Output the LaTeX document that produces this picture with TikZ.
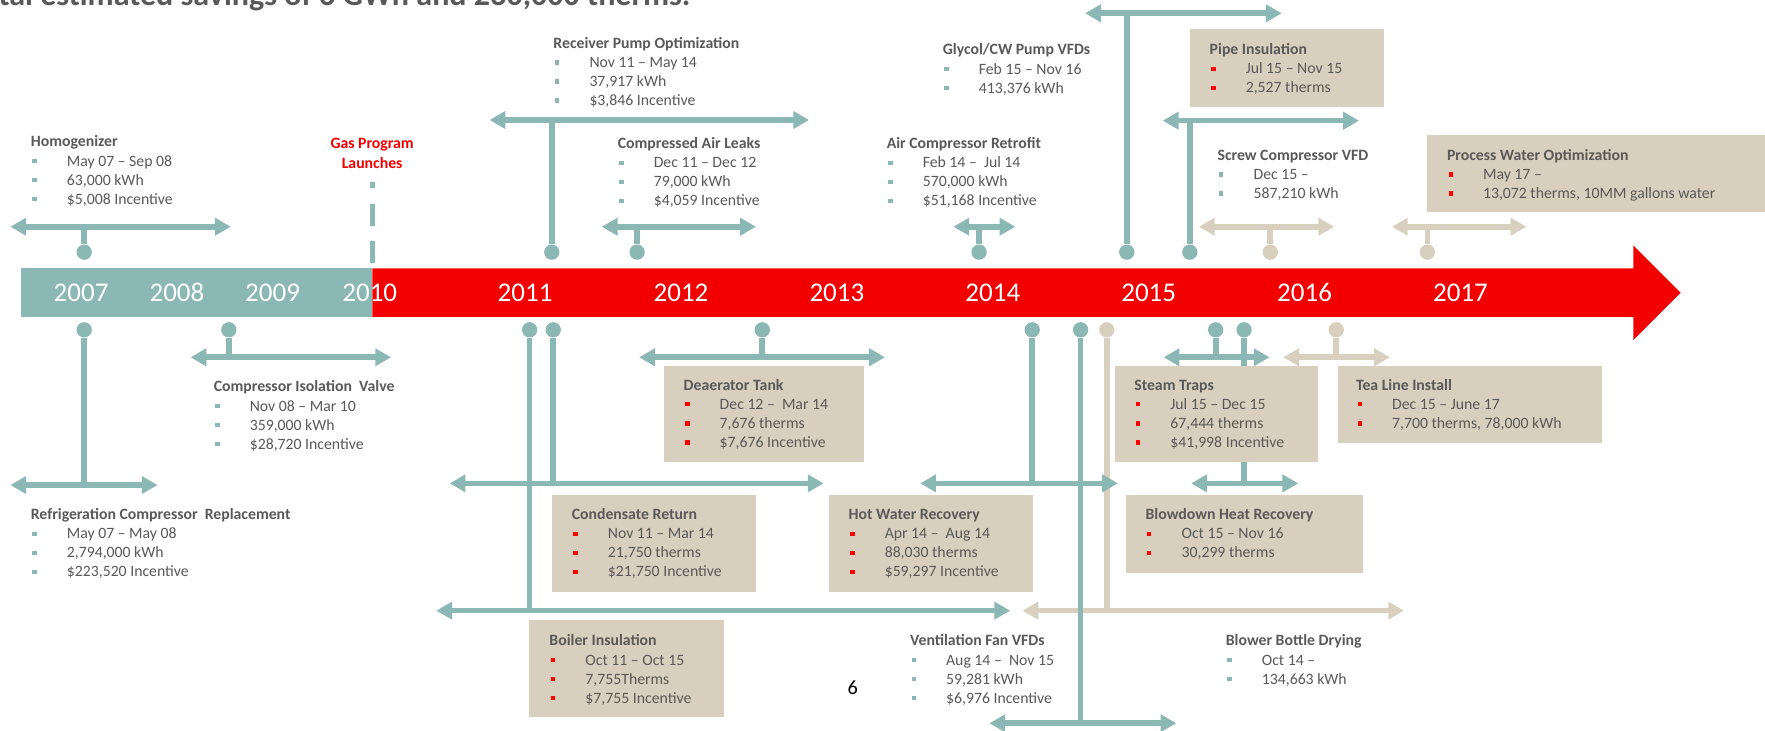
\documentclass[tikz,border=0pt]{standalone}
\usepackage{fontspec}
\setmainfont{Carlito}
\usetikzlibrary{arrows.meta}
\definecolor{teal1}{RGB}{139,183,181}
\definecolor{beige1}{RGB}{217,207,190}
\definecolor{red1}{RGB}{242,0,0}
\definecolor{tgray}{RGB}{89,89,89}
\definecolor{bred}{RGB}{255,0,0}
\tikzset{
  span/.style={line width=5pt, arrows={Triangle[length=14pt,width=15pt]-Triangle[length=14pt,width=15pt]}},
  stem/.style={line width=5pt},
  dot/.style={circle, inner sep=0pt, minimum size=13.6pt},
  ttl/.style={anchor=base west, inner sep=0pt, text=tgray, font=\fontsize{14}{17}\selectfont\bfseries},
  itm/.style={anchor=base west, inner sep=0pt, text=tgray, font=\fontsize{14}{17}\selectfont},
  blt/.style={rectangle, inner sep=0pt, minimum size=3.8pt},
  yr/.style={anchor=base, inner sep=0pt, text=white, font=\fontsize{24}{28}\selectfont},
  gas/.style={anchor=base, inner sep=0pt, text=red1, font=\fontsize{14}{17}\selectfont\bfseries},
  bbox/.style={fill=beige1, draw=none}
}
% milestone: name, colour, dot x, dot y, span y, span left, span right
\newcommand\ms[7]{%
  \node[dot,fill=#2] (#1d) at (#3,#4) {};
  \coordinate (#1l) at (#6,#5);
  \coordinate (#1r) at (#7,#5);
  \coordinate (#1j) at (#3,#5);
  \draw[span,draw=#2] (#1l) -- (#1r);
  \draw[stem,draw=#2] (#1d) -- (#1j);
}
% event text: name, x, y (title centre), bullet colour, title, items
\newcommand\evt[6]{%
  \node[ttl] (#1) at (#2,#3+4.5) {#5};
  \foreach \evitem [count=\ii] in {#6} {
    \pgfmathsetmacro\yy{#3+17.2+16.9*(\ii-1)}
    \node[blt,fill=#4] (#1-b\ii) at (#2+3.5,\yy) {};
    \node[itm] (#1-\ii) at (#2+32,\yy+4.5) {\evitem};
  }
}
\begin{document}
\begin{tikzpicture}[x=1pt,y=-1pt]
\useasboundingbox (0,0) rectangle (1568,649);
\fill[white] (0,0) rectangle (1568,649);

% headline (cut by the top edge)
\node[anchor=base west, inner sep=0pt, text=tgray, font=\fontsize{28.5}{34}\selectfont\bfseries] (headline) at (-1.5,5.3) {tal estimated savings of 6 GWh and 230,000 therms.};

% timeline bar
\fill[teal1] (19,238.4) rectangle (330.8,281.6);
\fill[red1] (330.8,238.4) -- (1451,238.4) -- (1451,218) -- (1493,260) -- (1451,302) -- (1451,281.6) -- (330.8,281.6) -- cycle;

\foreach \yx/\yt in {72/2007,157.2/2008,242.2/2009,328.5/2010,466.5/2011,605/2012,743.5/2013,882/2014,1020.5/2015,1159/2016,1297.5/2017}
  \node[yr] (y\yt) at (\yx,268) {\yt};

% gas program launch marker
\coordinate (gasA) at (330.8,234);
\coordinate (gasB) at (330.8,161.4);
\draw[teal1, line width=5pt, dash pattern=on 19.5pt off 14pt] (gasA) -- (gasB);
\node[gas] (gas1) at (330.6,131.8) {Gas Program};
\node[gas] (gas2) at (330.6,149.6) {Launches};

% beige milestones (behind)
\ms{scr}{beige1}{1128.5}{224}{201.4}{1065}{1185.3}
\ms{pw}{beige1}{1268}{224}{201.4}{1236.6}{1356}
\ms{bbd}{beige1}{983.2}{293}{542.5}{908.4}{1247.3}
\ms{tea}{beige1}{1187.1}{293}{317.4}{1140}{1234.8}

% teal milestones above
\ms{hom}{teal1}{74.8}{224}{201.4}{9.2}{205}
\ms{rec}{teal1}{490.2}{224}{106.6}{435}{718.8}
\ms{cal}{teal1}{566}{224}{201.4}{534.6}{671.6}
\ms{acr}{teal1}{869.8}{224}{201.4}{847}{902}
\ms{gly}{teal1}{1001}{224}{11.8}{964}{1138.6}
\ms{pip}{teal1}{1057}{224}{107.2}{1033}{1207.3}

% teal milestones below
\ms{rcr}{teal1}{74.8}{293}{430.9}{9.2}{140}
\ms{civ}{teal1}{203.3}{293}{317.4}{169.3}{347.4}
\ms{boi}{teal1}{470.5}{293}{542.5}{387.6}{897.4}
\ms{con}{teal1}{491.5}{293}{429.4}{399.5}{731.7}
\ms{dea}{teal1}{677.2}{293}{317.4}{567.8}{786.2}
\ms{hwr}{teal1}{917}{293}{429.4}{817.5}{993.2}
\ms{ven}{teal1}{960}{293}{642.5}{879}{1045}
\ms{stm}{teal1}{1080}{293}{317.4}{1033.7}{1127.8}
\ms{blw}{teal1}{1105.2}{293}{429.4}{1058.2}{1153.3}

% beige boxes
\fill[bbox] (1057.5,26) rectangle (1229.7,94.8);
\fill[bbox] (1268,120) rectangle (1570,188.6);
\fill[bbox] (589.9,325.1) rectangle (767.4,410.7);
\fill[bbox] (990.2,325.1) rectangle (1170.7,410.7);
\fill[bbox] (1188.2,325.1) rectangle (1423,393.8);
\fill[bbox] (490.6,439.7) rectangle (671.6,525.6);
\fill[bbox] (736.5,439.7) rectangle (917.7,525.6);
\fill[bbox] (1000.5,439.7) rectangle (1210.8,508.7);
\fill[bbox] (469.8,550.8) rectangle (643.3,636.7);

% texts
\evt{tHom}{27.2}{125.9}{teal1}{Homogenizer}{{May 07 – Sep 08},{63,000 kWh},{\$5,008 Incentive}}
\evt{tRec}{491.5}{38.2}{teal1}{Receiver Pump Optimization}{{Nov 11 – May 14},{37,917 kWh},{\$3,846 Incentive}}
\evt{tCal}{548.6}{127.3}{teal1}{Compressed Air Leaks}{{Dec 11 – Dec 12},{79,000 kWh},{\$4,059 Incentive}}
\evt{tAcr}{787.6}{127.3}{teal1}{Air Compressor Retrofit}{{Feb 14 –\ \ Jul 14},{570,000 kWh},{\$51,168 Incentive}}
\evt{tGly}{837.4}{44.2}{teal1}{Glycol/CW Pump VFDs}{{Feb 15 – Nov 16},{413,376 kWh}}
\evt{tPip}{1074.5}{43.8}{bred}{Pipe Insulation}{{Jul 15 – Nov 15},{2,527 therms}}
\evt{tScr}{1081.5}{137.7}{teal1}{Screw Compressor VFD}{{Dec 15 –},{587,210 kWh}}
\evt{tPw}{1285.3}{137.7}{bred}{Process Water Optimization}{{May 17 –},{13,072 therms, 10MM gallons water}}
\evt{tRcr}{27.2}{456.9}{teal1}{Refrigeration Compressor\ \ Replacement}{{May 07 – May 08},{2,794,000 kWh},{\$223,520 Incentive}}
\evt{tCiv}{189.7}{343.5}{teal1}{Compressor Isolation\ \ Valve}{{Nov 08 – Mar 10},{359,000 kWh},{\$28,720 Incentive}}
\evt{tDea}{607.2}{342}{bred}{Deaerator Tank}{{Dec 12 –\ \ Mar 14},{7,676 therms},{\$7,676 Incentive}}
\evt{tStm}{1007.5}{342}{bred}{Steam Traps}{{Jul 15 – Dec 15},{67,444 therms},{\$41,998 Incentive}}
\evt{tTea}{1204.5}{342}{bred}{Tea Line Install}{{Dec 15 – June 17},{7,700 therms, 78,000 kWh}}
\evt{tCon}{507.8}{456.9}{bred}{Condensate Return}{{Nov 11 – Mar 14},{21,750 therms},{\$21,750 Incentive}}
\evt{tHwr}{753.8}{456.9}{bred}{Hot Water Recovery}{{Apr 14 –\ \ Aug 14},{88,030 therms},{\$59,297 Incentive}}
\evt{tBlw}{1017.5}{456.9}{bred}{Blowdown Heat Recovery}{{Oct 15 – Nov 16},{30,299 therms}}
\evt{tBoi}{487.9}{569.1}{bred}{Boiler Insulation}{{Oct 11 – Oct 15},{7,755Therms},{\$7,755 Incentive}}
\evt{tVen}{808.3}{569.1}{teal1}{Ventilation Fan VFDs}{{Aug 14 –\ \ Nov 15},{59,281 kWh},{\$6,976 Incentive}}
\evt{tBbd}{1088.8}{569.1}{teal1}{Blower Bottle Drying}{{Oct 14 –},{134,663 kWh}}

% page number
\node[anchor=base, inner sep=0pt, font=\fontsize{18}{21}\selectfont] (pageno) at (757.5,617.2) {6};
\end{tikzpicture}
\end{document}
